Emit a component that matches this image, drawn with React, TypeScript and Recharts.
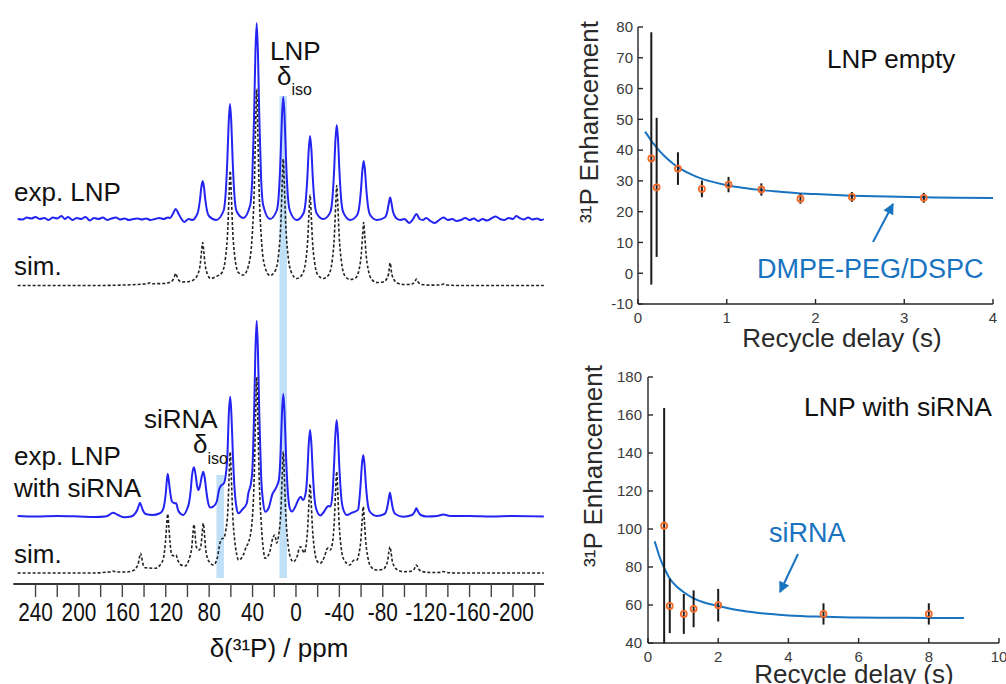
import React from 'react';
import { ComposedChart, Line, Scatter, ErrorBar, XAxis, YAxis, ReferenceArea } from 'recharts';

const FONT = '"Liberation Sans", Arial, Helvetica, sans-serif';
const SPEC_BLUE = '#2424f2';
const FIT_BLUE = '#1873c1';
const DOT_ORANGE = '#f26b2a';

// 31P spectra, [ppm, intensity] pairs
const expEmpty: [number, number][] = [
  [256.5, 0], [252, -0.5], [248, 1.5], [244, 0.5], [240, 2], [236, 0], [232, 1], [228, -1], [224, 1.5], [220, 0.5],
  [216, 3], [213, 0], [210, 2], [206, -1], [202, 1], [198, 0], [194, 2], [190, -1.5], [186, 1], [182, 0], [178, 1.5],
  [174, -1], [170, 0.5], [166, 1.5], [162, -0.5], [158, 0.5], [154, -1], [150, 0], [146, 0.5], [142, -0.5], [138, 0.5],
  [134, -1], [130, 0], [126, 1], [122, 0], [118, 1.5],
  [116, 1], [113.5, 5], [110.8, 10], [108.1, 5], [105.5, 0], [103, -3], [99, 0], [95.5, -1],
  [92, 2.7], [90, 8.4], [88.5, 19], [87.2, 32], [86, 38], [84.8, 32], [83.5, 19], [82, 8.4], [80, 2.7],
  [73.5, -1],
  [66.8, 8], [64.8, 25.3], [63.3, 57.5], [62, 96.6], [60.8, 115], [59.6, 96.6], [58.3, 57.5], [56.8, 25.3], [54.8, 8],
  [48.5, 1],
  [42.2, 13.7], [40.2, 43], [38.7, 98], [37.4, 164.6], [36.2, 196], [35, 164.6], [33.7, 98], [32.2, 43], [30.2, 13.7],
  [24, 0],
  [17.7, 8.5], [15.7, 26.8], [14.2, 61], [12.9, 102.5], [11.7, 122], [10.5, 102.5], [9.2, 61], [7.7, 26.8], [5.7, 8.5],
  [-0.6, -1],
  [-7, 5.8], [-9, 18.3], [-10.5, 41.5], [-11.8, 69.7], [-13, 83], [-14.2, 69.7], [-15.5, 41.5], [-17, 18.3], [-19, 5.8],
  [-25.3, 0],
  [-31.6, 6.6], [-33.6, 20.7], [-35.1, 47], [-36.4, 79], [-37.6, 94], [-38.8, 79], [-40.1, 47], [-41.6, 20.7], [-43.6, 6.6],
  [-50, -1],
  [-56.4, 4], [-58.4, 12.8], [-59.9, 29], [-61.2, 48.7], [-62.4, 58], [-63.6, 48.7], [-64.9, 29], [-66.4, 12.8], [-68.4, 4],
  [-74.6, -1],
  [-81.8, 1.5], [-84.3, 8], [-85.6, 16], [-86.8, 21.5], [-88, 16], [-89.3, 8], [-91.8, 1.5],
  [-96, -1], [-100, 0], [-104.5, -4],
  [-108, 0], [-111, 5], [-114, 0],
  [-117, -1], [-120, 1], [-124, -2], [-128, -4], [-132, -1], [-136, 1.5], [-140, -1], [-144, 0], [-148, -2], [-152, -1],
  [-156, 1], [-160, -1], [-164, 0.5], [-168, -2], [-172, 0], [-176, -1.5], [-180, 0.5], [-184, 2.5], [-188, 0], [-192, -1],
  [-196, 1], [-200, 0], [-203, 3], [-206, 1], [-210, -0.5], [-214, 1.5], [-218, -0.5], [-222, 0.5], [-226, -1], [-228.5, 0],
];

const simEmpty: [number, number][] = [
  [256.5, 0], [180, 0], [165, 0.3], [150, 0.8], [140, 1.5], [137, 1.8], [134.5, 2.8], [132, 1.8], [122, 2],
  [116.5, 3], [113.5, 5.5], [112, 9], [110.8, 12], [109.6, 9], [108.2, 5.5], [105, 3.5],
  [98.5, 4],
  [93.5, 6.5], [90.2, 12], [88.2, 21.5], [87, 34.4], [86, 43], [85, 34.4], [83.8, 21.5], [81.8, 12], [78.5, 7],
  [73.4, 9],
  [68.1, 13], [64.8, 29], [62.8, 57], [61.6, 91.6], [60.6, 114.5], [59.6, 91.6], [58.4, 57], [56.4, 29], [53.1, 13],
  [48.4, 10.5],
  [43.7, 20], [40.4, 49], [38.4, 98], [37.2, 157], [36.2, 196.5], [35.2, 157], [34, 98], [32, 49], [28.7, 19],
  [24, 10],
  [19.2, 14.5], [15.9, 32], [13.9, 63], [12.7, 101], [11.7, 126.5], [10.7, 101], [9.5, 63], [7.5, 32], [4.2, 13],
  [-0.6, 7],
  [-5.5, 10.5], [-8.8, 23], [-10.8, 45], [-12, 72], [-13, 90.5], [-14, 72], [-15.2, 45], [-17.2, 23], [-20.5, 10],
  [-25.3, 7],
  [-30.1, 10.5], [-33.4, 25], [-35.4, 50], [-36.6, 80], [-37.6, 100], [-38.6, 80], [-39.8, 50], [-41.8, 25], [-45.1, 9.5],
  [-50, 6],
  [-54.9, 7.5], [-58.2, 16], [-60.2, 31.5], [-61.4, 50], [-62.4, 63], [-63.4, 50], [-64.6, 31.5], [-66.6, 16], [-69.9, 6],
  [-74.6, 3],
  [-80.3, 3.5], [-83.6, 6.5], [-85.4, 12], [-86.8, 22.5], [-88.2, 12], [-90, 6.5], [-93.3, 2.5],
  [-99, 1],
  [-106, 1.2], [-109.5, 3.5], [-111, 6.5], [-112.5, 3.5], [-116, 1],
  [-124, 0.4], [-133, 0.5], [-136, 1.5], [-139, 0.5], [-150, 0], [-228.5, 0],
];

const expSirna: [number, number][] = [
  [256.5, -0.5], [240, -1], [220, -0.5], [200, -1], [185, -1.5], [176, -1],
  [173, 0], [168.7, 2.8], [164, 0.5], [158, -1.8], [152, -1],
  [149, 1], [146.5, 5], [145, 9.5], [143.8, 12.8], [142.5, 9.5], [141, 5], [138.5, 1.5],
  [132, 0.5], [126, 2],
  [123.5, 4], [121.5, 10], [120, 22], [119, 35], [118.2, 41.5], [117.2, 35], [116, 24], [114.3, 14],
  [112.3, 12.5], [110.5, 12.2], [108.5, 5], [106, 1.5], [104, 0.5], [100.5, 6],
  [98.5, 13], [97, 25], [95.8, 40], [94, 48.2], [92.4, 40], [91.2, 30], [89.8, 25.5],
  [88.4, 30], [87, 38], [85.4, 43.8], [84, 37], [82.8, 26], [81, 13], [79, 8], [76.2, 8.8], [73, 14],
  [70.8, 26], [68.5, 30.5], [66.5, 32],
  [64.8, 40], [63.1, 62], [62, 99], [60.6, 118.8], [59.4, 99], [58.1, 60], [56.6, 27], [54.8, 8],
  [53, 2.2], [49.5, 6], [45.4, 12], [43.9, 22.2],
  [41.5, 32], [40.2, 45], [38.7, 97], [37.4, 163], [36.2, 194.8], [35, 163], [33.7, 97], [32.2, 42], [30.2, 13],
  [28.3, 3.8], [25, 8], [21.5, 22], [19.4, 25.5], [17.4, 30],
  [15.7, 36], [14.2, 61], [12.9, 102], [11.7, 121.5], [10.5, 102], [9.2, 61], [7.7, 27], [5.9, 8],
  [3.8, 4], [1, 8], [-2.3, 16], [-4.3, 18.8], [-6.5, 15.5],
  [-9.2, 24], [-10.5, 43], [-11.8, 72], [-13, 85.5], [-14.2, 72], [-15.5, 43], [-17, 18], [-19, 5.5],
  [-22.5, 0], [-26, 4], [-29.8, 9.5], [-31.8, 9],
  [-33.6, 21], [-35, 48], [-36.3, 80], [-37.5, 95.5], [-38.7, 80], [-40, 48], [-41.5, 21], [-43.5, 6.5],
  [-46.9, 0.5], [-52, 3], [-54.4, 3.8],
  [-57.3, 6], [-58.3, 14], [-59.5, 30], [-60.8, 51], [-62, 60.5], [-63.2, 51], [-64.5, 30], [-66, 13], [-68, 4],
  [-74.4, -0.5],
  [-81.6, 1.5], [-84.1, 8], [-85.4, 16], [-86.6, 22.8], [-87.8, 16], [-89.1, 8], [-91.6, 1.5],
  [-98.9, -1.2],
  [-107, 0.5], [-109.5, 4], [-111, 7.2], [-112.5, 4], [-115, 0.5],
  [-120.5, -1], [-130, -0.5], [-136, 1], [-142, -0.5], [-160, -0.5], [-180, -1], [-200, -0.5], [-228.5, -1],
];

const simSirna: [number, number][] = [
  [256.5, 0], [185, 0], [175, 0.8], [171.5, 1], [168.7, 2], [166, 1], [156, 1], [150, 2.5],
  [147, 5.5], [145.2, 10], [144.2, 15.8], [143.2, 19.7], [142.2, 15.8], [141.2, 10], [139.4, 5.5],
  [136, 5], [130, 4.7],
  [125.2, 8], [122, 15.5], [120.4, 29.5], [119.2, 47], [118.2, 59], [117.2, 47], [116, 30], [114.4, 18],
  [112, 17], [110.5, 18], [109, 13], [106.5, 8.5], [102.3, 7],
  [99, 12], [97.8, 16], [96, 26], [95, 39], [94, 48.5], [93, 39], [92, 27], [90.5, 23.5], [89.1, 23],
  [87.6, 27], [86.4, 40], [85.4, 49.7], [84.4, 40], [83.4, 26], [81.6, 15], [79, 10], [76.2, 8], [72.5, 15],
  [70, 30], [68.5, 34], [66.5, 35],
  [64.8, 42], [62.8, 62], [61.6, 97], [60.6, 121], [59.6, 97], [58.4, 61], [56.4, 32], [54.5, 18],
  [53, 13], [49, 17], [45.5, 27], [43.9, 30],
  [40.4, 52], [38.4, 99], [37.2, 157], [36.2, 196], [35.2, 157], [34, 99], [32, 50], [30, 23],
  [28.4, 14.7], [24.5, 20], [21, 36], [19.4, 38], [17.8, 30],
  [15.9, 38], [13.9, 62], [12.7, 97], [11.7, 121.3], [10.7, 97], [9.5, 61], [7.5, 31], [5.5, 17],
  [2.5, 11.3], [-1.5, 18], [-3, 25], [-4.3, 26.3], [-6, 23], [-7.8, 20],
  [-8.8, 24], [-10.8, 45], [-12, 71], [-13, 89], [-14, 71], [-15.2, 45], [-17.2, 22], [-19.4, 12],
  [-22.1, 9.7], [-26.5, 17], [-28.5, 24], [-29.8, 25], [-31.5, 23],
  [-33.3, 28], [-35.3, 51], [-36.5, 81], [-37.5, 101.3], [-38.5, 81], [-39.7, 51], [-41.7, 25], [-44.3, 13],
  [-49.8, 8], [-52.5, 12], [-54.4, 13], [-56.3, 13],
  [-57.8, 18], [-59.8, 33], [-61, 53], [-62, 66.3], [-63, 53], [-64.2, 33], [-66.2, 16], [-69.3, 6],
  [-74.4, 3],
  [-80, 3.5], [-82.8, 7], [-84.6, 13], [-85.6, 21], [-86.6, 26.3], [-87.6, 21], [-88.6, 13], [-90.4, 7], [-93.6, 3],
  [-98.9, 1.3],
  [-106, 1.8], [-109, 4], [-111, 8], [-113, 4], [-116, 1.5],
  [-124, 0.5], [-133, 0.6], [-136, 1.5], [-139, 0.6], [-148, 0], [-228.5, 0],
];

const ppmTicks = [240, 220, 200, 180, 160, 140, 120, 100, 80, 60, 40, 20, 0, -20, -40, -60, -80, -100, -120, -140, -160, -180, -200, -220];
// isotropic shift bands [ppm from, ppm to]
const lnpIsoBand = [15.2, 8.3];
const sirnaIsoBand = [73.3, 66.4];

// enhancement vs recycle delay, LNP empty
const delayEmpty = [0.15, 0.21, 0.45, 0.72, 1.02, 1.39, 1.83, 2.41, 3.22];
const enhEmpty = [37.3, 27.9, 34.0, 27.4, 28.8, 27.2, 24.2, 24.8, 24.5];
const errEmpty = [41, 22.6, 5.3, 2.7, 2.5, 2, 1.6, 1.6, 1.6];
const fitEmptyX = [0.08, 0.12, 0.16, 0.2, 0.25, 0.3, 0.4, 0.5, 0.6, 0.7, 0.8, 1.0, 1.2, 1.4, 1.6, 1.8, 2.0, 2.4, 2.8, 3.2, 3.6, 4.0];
const fitEmptyY = [46, 44.3, 42.6, 41.2, 39.5, 38, 35.5, 33.6, 32.1, 30.9, 30, 28.6, 27.7, 27, 26.5, 26, 25.7, 25.2, 24.9, 24.7, 24.5, 24.4];

// LNP with siRNA
const delaySirna = [0.46, 0.62, 1.02, 1.3, 2.0, 5.0, 8.0];
const enhSirna = [101.7, 59.5, 55.3, 58.0, 59.9, 55.3, 55.3];
const errSirna = [62, 14.3, 10.5, 9.7, 8.6, 5.6, 5.6];
const fitSirnaX = [0.19, 0.25, 0.3, 0.4, 0.5, 0.6, 0.8, 1.0, 1.3, 1.6, 2.0, 2.5, 3.0, 3.5, 4.0, 5.0, 6.0, 7.0, 8.0, 9.0];
const fitSirnaY = [93.5, 90, 87, 82, 78, 74.5, 70, 67, 63.5, 61.3, 59.5, 57.5, 56.2, 55.2, 54.5, 53.8, 53.4, 53.3, 53.2, 53.2];

const ticksEmptyX = [0, 1, 2, 3, 4];
const ticksEmptyY = [-10, 0, 10, 20, 30, 40, 50, 60, 70, 80];
const ticksSirnaX = [0, 2, 4, 6, 8, 10];
const ticksSirnaY = [40, 60, 80, 100, 120, 140, 160, 180];

// vertical stacking of the traces (px above the ppm axis)
const stack = (pts: [number, number][], off: number) => pts.map(([x, y]) => ({ x, y: y + off }));
const toRows = (xs: number[], ys: number[], es?: number[]) =>
  xs.map((x, i) => ({ x, y: ys[i], e: es ? es[i] : 0 }));

const PpmTick = (props: any) => {
  const { x, y, payload } = props;
  if (payload.value % 40 !== 0) return <g />;
  return (
    <g transform={`translate(${x},${y}) scale(0.8,1)`}>
      <text x={0} y={22} textAnchor="middle" fontSize={26} fill="#111">{payload.value}</text>
    </g>
  );
};

const Ring = (p: any) => (
  <circle cx={p.cx} cy={p.cy} r={3} fill="none" stroke={DOT_ORANGE} strokeWidth={1.8} />
);

const boxAxis = { stroke: '#262626', strokeWidth: 1.4 };
const tickFont = { fill: '#3a3a3a', fontSize: 15 };

function Spectra() {
  return (
    <ComposedChart width={560} height={684} margin={{ top: 10, right: 16.1, left: 13.3, bottom: 60 }}>
      <XAxis dataKey="x" type="number" domain={[-228.5, 260.5]} reversed ticks={ppmTicks} interval={0}
        allowDataOverflow height={40} tickSize={13} tickMargin={2}
        tickLine={{ stroke: '#444', strokeWidth: 1.4 }} axisLine={{ stroke: '#333', strokeWidth: 2 }}
        tick={(p: any) => <PpmTick {...p} />} />
      <YAxis hide type="number" domain={[0, 574]} allowDataOverflow />
      <ReferenceArea x1={lnpIsoBand[0]} x2={lnpIsoBand[1]} y1={6} y2={488} fill="#bfe0f7" fillOpacity={1} stroke="none" />
      <ReferenceArea x1={sirnaIsoBand[0]} x2={sirnaIsoBand[1]} y1={6} y2={109} fill="#bfe0f7" fillOpacity={1} stroke="none" />
      <Line data={stack(expEmpty, 365)} dataKey="y" type="monotone" stroke={SPEC_BLUE} strokeWidth={2} dot={false} isAnimationActive={false} />
      <Line data={stack(simEmpty, 298.5)} dataKey="y" type="monotone" stroke="#222" strokeWidth={1.6} strokeDasharray="3 2" dot={false} isAnimationActive={false} />
      <Line data={stack(expSirna, 68.5)} dataKey="y" type="monotone" stroke={SPEC_BLUE} strokeWidth={2} dot={false} isAnimationActive={false} />
      <Line data={stack(simSirna, 11)} dataKey="y" type="monotone" stroke="#222" strokeWidth={1.6} strokeDasharray="3 2" dot={false} isAnimationActive={false} />
    </ComposedChart>
  );
}

function EnhancementPlot(props: {
  w: number; h: number; margin: any; xDomain: number[]; yDomain: number[];
  xTicks: number[]; yTicks: number[]; fit: any[]; pts: any[]; yTickMargin: number;
}) {
  const { w, h, margin, xDomain, yDomain, xTicks, yTicks, fit, pts, yTickMargin } = props;
  return (
    <ComposedChart width={w} height={h} margin={margin} data={fit}>
      <XAxis dataKey="x" type="number" domain={xDomain} ticks={xTicks} interval={0} allowDataOverflow
        height={30} tickSize={-5} tickMargin={13} axisLine={boxAxis} tickLine={boxAxis} tick={tickFont} />
      <XAxis xAxisId="top" orientation="top" type="number" domain={xDomain} ticks={xTicks} interval={0}
        height={0} tickSize={-5} axisLine={boxAxis} tickLine={boxAxis} tick={false} />
      <YAxis type="number" domain={yDomain} ticks={yTicks} interval={0} allowDataOverflow width={40}
        tickSize={-5} tickMargin={yTickMargin} axisLine={boxAxis} tickLine={boxAxis} tick={tickFont} />
      <YAxis yAxisId="right" orientation="right" type="number" domain={yDomain} ticks={yTicks} interval={0}
        width={0} tickSize={-5} axisLine={boxAxis} tickLine={boxAxis} tick={false} />
      <Line dataKey="y" type="monotone" stroke={FIT_BLUE} strokeWidth={2} dot={false} isAnimationActive={false} />
      <Scatter data={pts} dataKey="y" shape={Ring} isAnimationActive={false}>
        <ErrorBar dataKey="e" direction="y" width={0} stroke="#1a1a1a" strokeWidth={2} isAnimationActive={false} />
      </Scatter>
    </ComposedChart>
  );
}

export default function App() {
  return (
    <div style={{ position: 'absolute', left: 0, top: 0, width: 1006, height: 684, background: '#fff', overflow: 'hidden', fontFamily: FONT }}>
      <div style={{ position: 'absolute', left: 0, top: 0 }}>
        <Spectra />
      </div>
      <div style={{ position: 'absolute', left: 580, top: 0 }}>
        <EnhancementPlot w={426} h={360} margin={{ top: 27, right: 13, left: 18, bottom: 26 }}
          xDomain={[0, 4]} yDomain={[-10, 80]} xTicks={ticksEmptyX} yTicks={ticksEmptyY} yTickMargin={10}
          fit={toRows(fitEmptyX, fitEmptyY)} pts={toRows(delayEmpty, enhEmpty, errEmpty)} />
      </div>
      <div style={{ position: 'absolute', left: 580, top: 360 }}>
        <EnhancementPlot w={426} h={324} margin={{ top: 17, right: 7, left: 28, bottom: 11 }}
          xDomain={[0, 10]} yDomain={[40, 180]} xTicks={ticksSirnaX} yTicks={ticksSirnaY} yTickMargin={11}
          fit={toRows(fitSirnaX, fitSirnaY)} pts={toRows(delaySirna, enhSirna, errSirna)} />
      </div>
      <svg width={1006} height={684} style={{ position: 'absolute', left: 0, top: 0, pointerEvents: 'none' }} fontFamily={FONT}>
        <defs>
          <marker id="head" viewBox="0 0 10 10" refX="9" refY="5" markerWidth="15" markerHeight="11" markerUnits="userSpaceOnUse" orient="auto">
            <path d="M0,0 L10,5 L0,10 z" fill={FIT_BLUE} />
          </marker>
        </defs>
        <g fill="#111" fontSize={26}>
          <text x={270} y={60}>LNP</text>
          <text x={277} y={85}>δ<tspan fontSize={16} dy={10}>iso</tspan></text>
          <text x={14} y={201}>exp. LNP</text>
          <text x={14} y={275}>sim.</text>
          <text x={144} y={428}>siRNA</text>
          <text x={193} y={453}>δ<tspan fontSize={16} dy={11}>iso</tspan></text>
          <text x={14} y={465}>exp. LNP</text>
          <text x={14} y={497}>with siRNA</text>
          <text x={14} y={563}>sim.</text>
          <text x={279} y={657} textAnchor="middle">δ(³¹P) / ppm</text>
        </g>
        <g fill="#2a2a2a" fontSize={26}>
          <text transform="translate(598,122) rotate(-90)" textAnchor="middle">³¹P Enhancement</text>
          <text transform="translate(602,466) rotate(-90)" textAnchor="middle">³¹P Enhancement</text>
          <text x={842} y={347} textAnchor="middle">Recycle delay (s)</text>
          <text x={854} y={683} textAnchor="middle">Recycle delay (s)</text>
        </g>
        <text x={827} y={68} fontSize={26} fill="#111">LNP empty</text>
        <text x={804} y={416} fontSize={26.5} fill="#111">LNP with siRNA</text>
        <text x={757} y={278} fontSize={27} fill={FIT_BLUE}>DMPE-PEG/DSPC</text>
        <text x={769} y={542} fontSize={27} fill={FIT_BLUE}>siRNA</text>
        <line x1={873} y1={242} x2={893} y2={204} stroke={FIT_BLUE} strokeWidth={2} markerEnd="url(#head)" />
        <line x1={798} y1={554} x2={780} y2={592} stroke={FIT_BLUE} strokeWidth={2} markerEnd="url(#head)" />
      </svg>
    </div>
  );
}
